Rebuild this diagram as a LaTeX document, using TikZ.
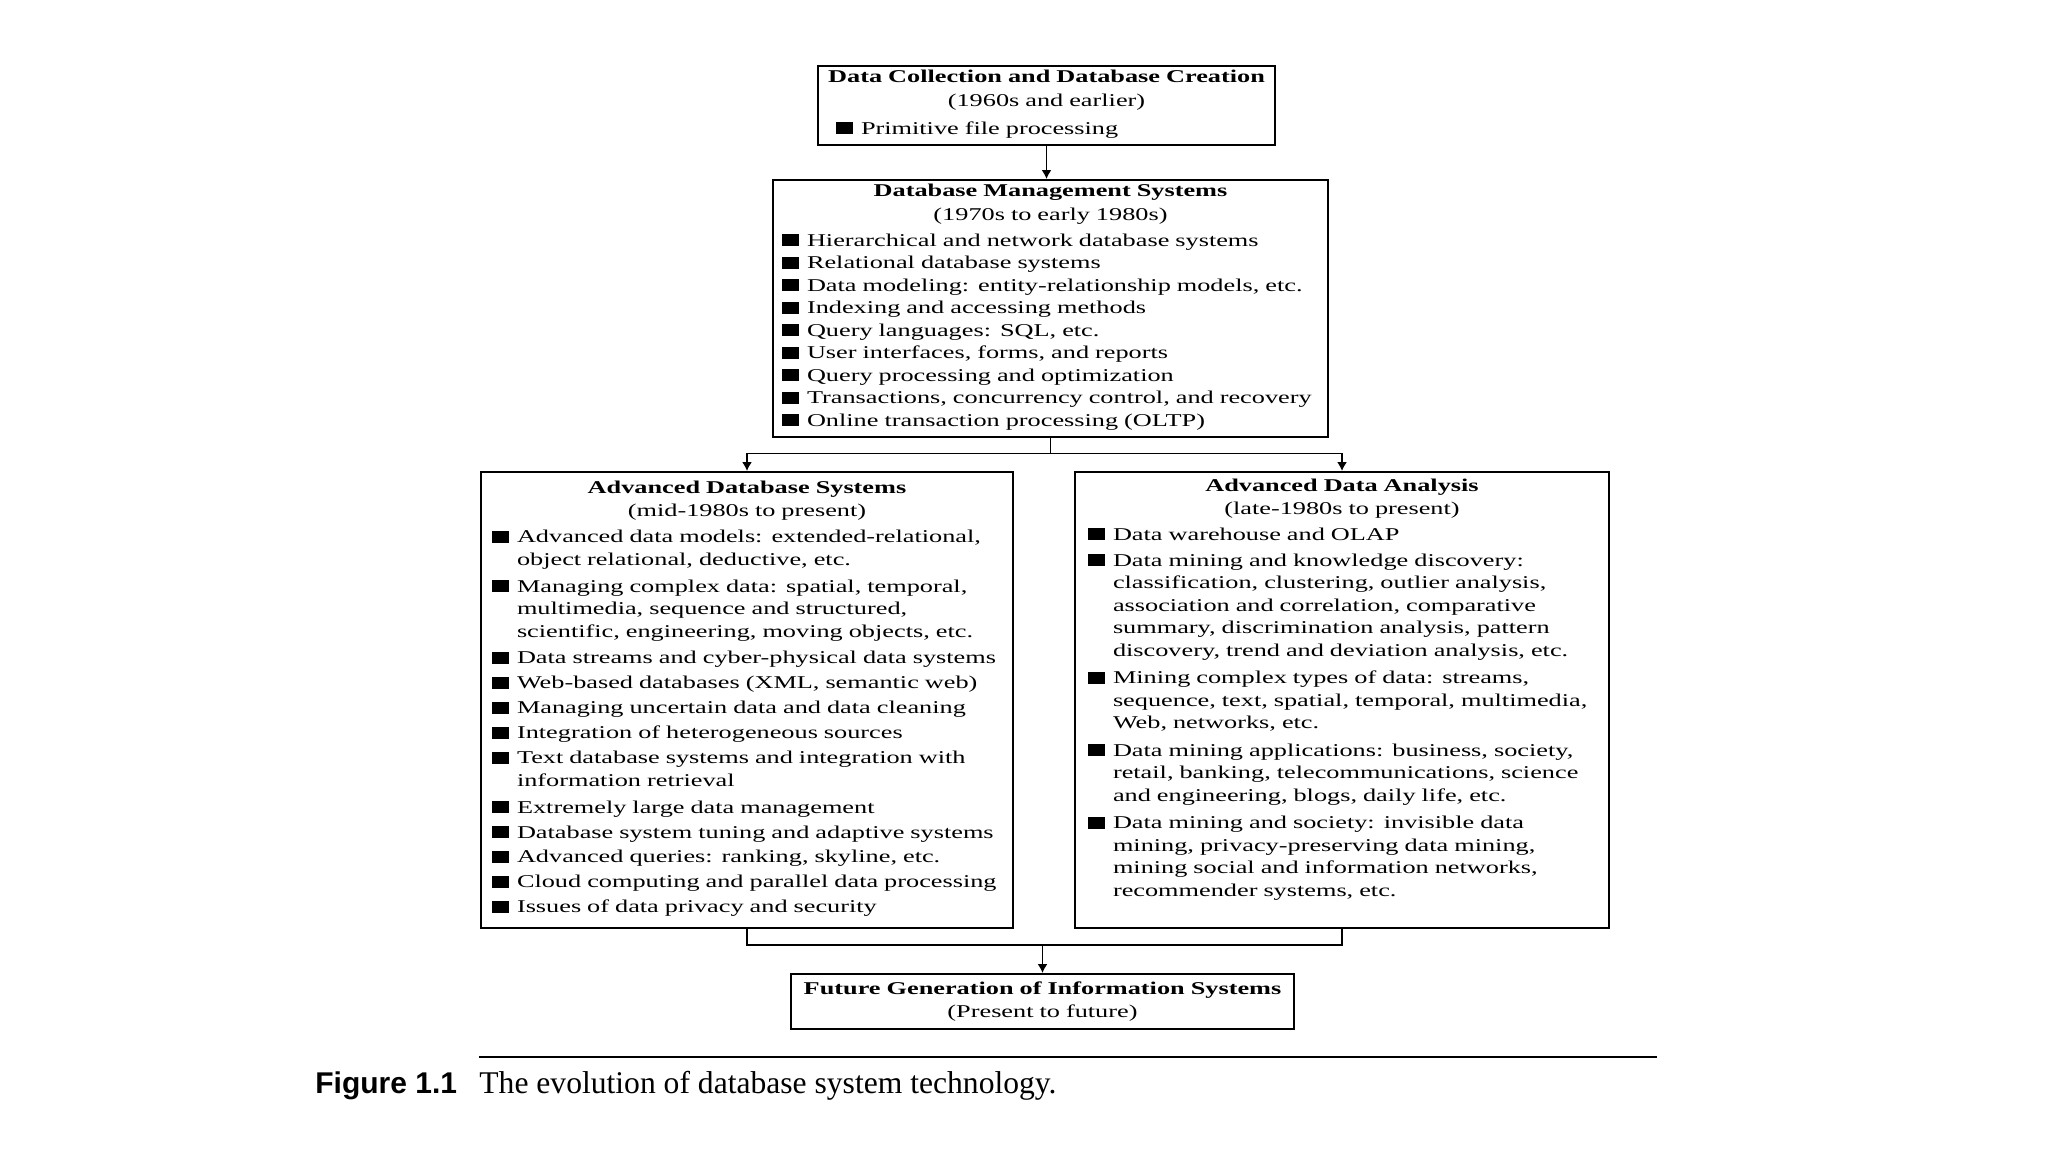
\documentclass[tikz,border=0pt]{standalone}
\usepackage{fontspec}
\setmainfont{Liberation Serif}[FakeStretch=1.46]
\newfontfamily\capfont{Liberation Serif}
\newfontfamily\capsans{Liberation Sans}
\usetikzlibrary{arrows.meta, calc}

\newlength{\bltw}\setlength{\bltw}{12.5pt}
\newlength{\itemgap}
\newcommand{\boxfont}{\fontsize{9pt}{11.26pt}\selectfont\lineskiplimit=-5pt}
% heading of an era box: name in bold, period below
\newcommand{\era}[2]{\noindent\makebox[\hsize]{\bfseries #1}\par\vspace{0.4pt}%
  \noindent\makebox[\hsize]{#2}\par\vspace{1.7pt}}
% one bullet item, its lines split by \\
\newcommand{\blt}[2][0pt]{\par\noindent\hspace*{#1}\makebox[\bltw][l]{\rule{8.5pt}{6pt}}%
  \begin{tabular}[t]{@{}l@{}}#2\end{tabular}\par\vspace{\itemgap}}

\begin{document}
\begin{tikzpicture}[x=0.5pt, y=-0.5pt, >={Latex[length=4.5pt,width=5pt]},
  erabox/.style={draw, line width=1.2pt, anchor=north, font=\boxfont, align=left, inner ysep=0pt},
  link/.style={line width=0.8pt}]
  \useasboundingbox (0,0) rectangle (2048,1152);
  % the five stages
  \node[erabox, text width=219.5pt, inner xsep=4.5pt, minimum height=39.5pt] (dc) at (1046.5,65) {%
    \era{Data Collection and Database Creation}{(1960s and earlier)}\vspace{1pt}%
    \blt[4.5pt]{Primitive file processing}};
  \node[erabox, text width=268.5pt, inner xsep=4.5pt, minimum height=128.5pt] (dbms) at (1050.5,179) {%
    \era{Database Management Systems}{(1970s to early 1980s)}%
    \blt{Hierarchical and network database systems}
    \blt{Relational database systems}
    \blt{Data modeling: entity-relationship models, etc.}
    \blt{Indexing and accessing methods}
    \blt{Query languages: SQL, etc.}
    \blt{User interfaces, forms, and reports}
    \blt{Query processing and optimization}
    \blt{Transactions, concurrency control, and recovery}
    \blt{Online transaction processing (OLTP)}};
  \node[erabox, text width=255pt, inner xsep=5.5pt, minimum height=228pt] (ads) at (747,471) {%
    \era{Advanced Database Systems}{(mid-1980s to present)}\itemgap=1.2pt
    \blt{Advanced data models: extended-relational,\\ object relational, deductive, etc.}
    \blt{Managing complex data: spatial, temporal,\\ multimedia, sequence and structured,\\ scientific, engineering, moving objects, etc.}
    \blt{Data streams and cyber-physical data systems}
    \blt{Web-based databases (XML, semantic web)}
    \blt{Managing uncertain data and data cleaning}
    \blt{Integration of heterogeneous sources}
    \blt{Text database systems and integration with\\ information retrieval}
    \blt{Extremely large data management}
    \blt{Database system tuning and adaptive systems}
    \blt{Advanced queries: ranking, skyline, etc.}
    \blt{Cloud computing and parallel data processing}
    \blt{Issues of data privacy and security}};
  \node[erabox, text width=254pt, inner xsep=6.5pt, minimum height=228pt] (ada) at (1342,471) {%
    \era{Advanced Data Analysis}{(late-1980s to present)}\itemgap=1.5pt
    \blt{Data warehouse and OLAP}
    \blt{Data mining and knowledge discovery:\\ classification, clustering, outlier analysis,\\ association and correlation, comparative\\ summary, discrimination analysis, pattern\\ discovery, trend and deviation analysis, etc.}
    \blt{Mining complex types of data: streams,\\ sequence, text, spatial, temporal, multimedia,\\ Web, networks, etc.}
    \blt{Data mining applications: business, society,\\ retail, banking, telecommunications, science\\ and engineering, blogs, daily life, etc.}
    \blt{Data mining and society: invisible data\\ mining, privacy-preserving data mining,\\ mining social and information networks,\\ recommender systems, etc.}
    \vspace*{7.8pt}\hrule height 0pt};
  \node[erabox, text width=242.5pt, inner xsep=4.5pt, minimum height=27.5pt] (fut) at (1042.5,973) {%
    \noindent\makebox[\hsize]{\bfseries Future Generation of Information Systems}\par\vspace{0.4pt}%
    \noindent\makebox[\hsize]{(Present to future)}};
  % connectors
  \draw[link, ->] (dc.south) -- (dc.south |- dbms.north);
  \coordinate (fork) at ($(dbms.south)+(0,15)$);
  \draw[link] (dbms.south) -- (fork);
  \draw[link, ->] (fork) -| (ads.north);
  \draw[link, ->] (fork) -| (ada.north);
  \coordinate (merge) at ($(fut.north)+(0,-28)$);
  \draw[link] (ads.south) |- (merge) -| (ada.south);
  \draw[link, ->] (merge) -- (fut.north);
  % caption
  \draw[line width=1.2pt] (479,1057) -- (1657,1057);
  \node[anchor=base west, inner sep=0pt, font=\capsans\bfseries\fontsize{15pt}{18pt}\selectfont] (figno) at (315,1093) {Figure 1.1};
  \node[anchor=base west, inner sep=0pt, font=\capfont\fontsize{15.8pt}{19pt}\selectfont] (figcap) at (479,1093) {The evolution of database system technology.};
\end{tikzpicture}
\end{document}
